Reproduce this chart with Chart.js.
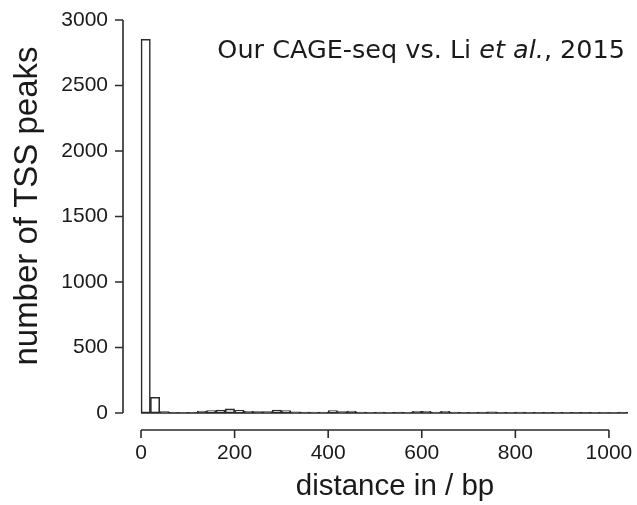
<!DOCTYPE html>
<html lang="en">
<head>
  <meta charset="UTF-8">
  <title>TSS peak distance histogram</title>
  <style>
    html, body { margin: 0; padding: 0; background: #fff; }
    #wrap { width: 637px; height: 505px; }
  </style>
  <script src="https://cdn.jsdelivr.net/npm/chart.js"></script>
</head>
<body>
  <div id="wrap"><canvas id="hist"></canvas></div>
  <script>
    // bin left edges (bp), bin width 20
    const binStarts = [0, 20, 40, 60, 80, 100, 120, 140, 160, 180, 200, 220, 240, 260, 280, 300,
      320, 340, 360, 380, 400, 420, 440, 460, 480, 500, 520, 540, 560, 580, 600, 620, 640, 660,
      680, 700, 720, 740, 760, 780, 800, 820, 840, 860, 880, 900, 920, 940, 960, 980, 1000, 1020];
    const peakCounts = [2853, 120, 10, 4, 3, 4, 15, 18, 23, 31, 20, 12, 11, 10, 23, 18,
      9, 7, 6, 6, 18, 10, 15, 6, 5, 6, 5, 7, 5, 12, 13, 6, 12, 6,
      5, 5, 6, 8, 5, 5, 6, 5, 5, 4, 5, 5, 4, 4, 5, 3, 3, 7];
    const binWidth = 20;
    const xTicks = [0, 200, 400, 600, 800, 1000];
    const yTicks = [0, 500, 1000, 1500, 2000, 2500, 3000];

    const ink = '#2b2b2b';
    const textCol = '#1a1a1a';
    const helv = '"Liberation Sans", Arial, sans-serif';

    // R-style detached axes, axis labels and title
    const rAxes = {
      id: 'rAxes',
      afterDatasetsDraw(chart) {
        // bottom edges of the histogram rectangles
        const c = chart.ctx;
        const xs = chart.scales.x, ys = chart.scales.y;
        const y0 = ys.getPixelForValue(0);
        c.save();
        c.strokeStyle = ink;
        c.lineWidth = 1.6;
        c.beginPath();
        c.moveTo(xs.getPixelForValue(binStarts[0]), y0);
        c.lineTo(xs.getPixelForValue(binStarts[binStarts.length - 1] + binWidth), y0);
        c.stroke();
        c.restore();
      },
      afterDraw(chart) {
        const c = chart.ctx;
        const xs = chart.scales.x, ys = chart.scales.y;
        const area = chart.chartArea;
        c.save();
        c.strokeStyle = ink;
        c.lineWidth = 1.6;
        // y axis
        const yx = area.left;
        c.beginPath();
        c.moveTo(yx, ys.getPixelForValue(yTicks[0]));
        c.lineTo(yx, ys.getPixelForValue(yTicks[yTicks.length - 1]));
        yTicks.forEach(v => {
          const p = ys.getPixelForValue(v);
          c.moveTo(yx, p);
          c.lineTo(yx - 8, p);
        });
        c.stroke();
        // x axis
        const xy = area.bottom;
        c.beginPath();
        c.moveTo(xs.getPixelForValue(xTicks[0]), xy);
        c.lineTo(xs.getPixelForValue(xTicks[xTicks.length - 1]), xy);
        xTicks.forEach(v => {
          const p = xs.getPixelForValue(v);
          c.moveTo(p, xy);
          c.lineTo(p, xy + 8);
        });
        c.stroke();

        c.fillStyle = textCol;
        c.textBaseline = 'alphabetic';
        c.textAlign = 'center';
        // x label
        c.font = '29.5px ' + helv;
        c.fillText('distance in / bp', 395, 495);
        // y label
        c.font = '33px ' + helv;
        c.translate(37, 206);
        c.rotate(-Math.PI / 2);
        c.fillText('number of TSS peaks', 0, 0);
        c.restore();

        // title with italic "et al."
        c.save();
        c.fillStyle = textCol;
        c.textBaseline = 'alphabetic';
        c.textAlign = 'left';
        const parts = [
          ['Our CAGE-seq vs. Li ', '25.5px "DejaVu Sans", sans-serif'],
          ['et al.', 'italic 25.5px "DejaVu Sans", sans-serif'],
          [', 2015', '25.5px "DejaVu Sans", sans-serif']
        ];
        let total = 0;
        parts.forEach(([t, f]) => { c.font = f; total += c.measureText(t).width; });
        let tx = 625 - total;
        parts.forEach(([t, f]) => {
          c.font = f;
          c.fillText(t, tx, 58);
          tx += c.measureText(t).width;
        });
        c.restore();
      }
    };

    const ctx = document.getElementById('hist').getContext('2d');
    new Chart(ctx, {
      type: 'bar',
      data: {
        datasets: [{
          data: binStarts.map((b, i) => ({ x: b + binWidth / 2, y: peakCounts[i] })),
          backgroundColor: '#ffffff',
          borderColor: ink,
          borderWidth: 1.6,
          borderSkipped: false,
          barPercentage: 1,
          categoryPercentage: 1,
          grouped: false
        }]
      },
      options: {
        responsive: true,
        maintainAspectRatio: false,
        animation: false,
        layout: { padding: { top: 10, right: 7, left: 0, bottom: 0 } },
        plugins: {
          legend: { display: false },
          tooltip: { enabled: false },
          title: { display: false }
        },
        scales: {
          x: {
            type: 'linear',
            min: -38.5,
            max: 1045,
            offset: false,
            grid: { display: false, drawTicks: false },
            border: { display: false },
            afterBuildTicks: s => { s.ticks = xTicks.map(v => ({ value: v })); },
            afterFit: s => { s.height = 75; s.paddingLeft = 0; s.paddingRight = 0; },
            ticks: {
              padding: 11,
              color: textCol,
              maxRotation: 0,
              autoSkip: false,
              callback: v => String(v),
              font: { family: helv, size: 21 }
            }
          },
          y: {
            min: -130,
            max: 3076,
            grid: { display: false, drawTicks: false },
            border: { display: false },
            afterBuildTicks: s => { s.ticks = yTicks.map(v => ({ value: v })); },
            afterFit: s => { s.width = 123; s.paddingTop = 0; s.paddingBottom = 0; },
            ticks: {
              padding: 15,
              color: textCol,
              autoSkip: false,
              callback: v => String(v),
              font: { family: helv, size: 21 }
            }
          }
        }
      },
      plugins: [rAxes]
    });
  </script>
</body>
</html>
